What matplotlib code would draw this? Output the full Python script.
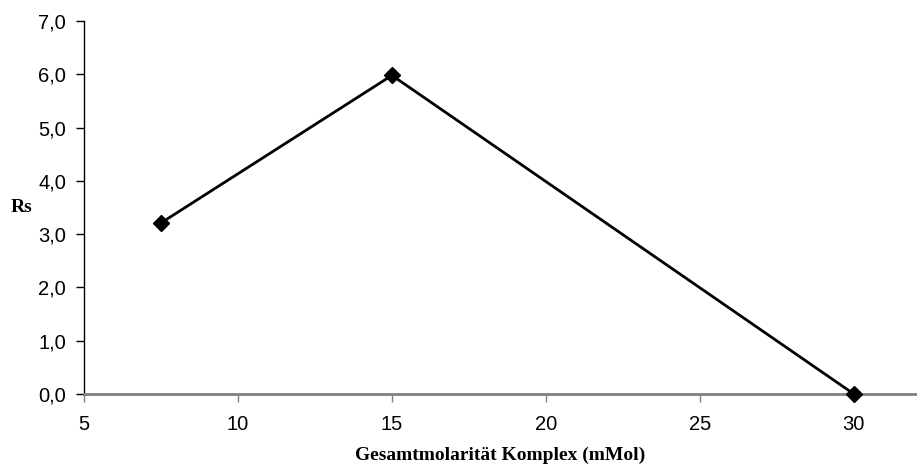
import matplotlib
matplotlib.use("Agg")
import matplotlib.pyplot as plt
from matplotlib.ticker import FuncFormatter

# Total molarity of the complex (mMol) and resolution Rs
molarity = [7.5, 15, 30]
rs_values = [3.21, 5.98, 0.0]
x_ticks = [5, 10, 15, 20, 25, 30]
y_ticks = [0, 1, 2, 3, 4, 5, 6, 7]

fig = plt.figure(figsize=(9.17, 4.70), dpi=100)
ax = fig.add_axes([84 / 917, 76 / 470, (917 - 84) / 917, (394 - 21) / 470])

ax.plot(molarity, rs_values, color="black", linewidth=2,
        marker="D", markersize=8, markerfacecolor="black",
        markeredgecolor="black", clip_on=False, zorder=3)

ax.set_xlim(5, 32.05)
ax.set_ylim(0, 7)
ax.set_xticks(x_ticks)
ax.set_yticks(y_ticks)
ax.yaxis.set_major_formatter(FuncFormatter(lambda v, p: f"{v:.1f}".replace(".", ",")))

for lab in ax.get_xticklabels() + ax.get_yticklabels():
    lab.set_fontfamily("Liberation Sans")
    lab.set_fontsize(14.5)

for side in ("top", "right"):
    ax.spines[side].set_visible(False)
ax.spines["left"].set_color("black")
ax.spines["left"].set_linewidth(1)
ax.spines["bottom"].set_color("#808080")
ax.spines["bottom"].set_linewidth(2)

ax.tick_params(axis="y", direction="out", length=6, width=1, color="black", pad=7)
ax.tick_params(axis="x", direction="out", length=6, width=1, color="#808080", pad=9)

ax.set_xlabel("Gesamtmolarität Komplex (mMol)", fontfamily="Liberation Serif",
              fontweight="bold", fontsize=14, labelpad=9)
fig.text(22 / 917, 1 - 208 / 470, "Rs", fontfamily="Liberation Serif",
         fontweight="bold", fontsize=14, ha="center", va="center")

fig.savefig("out.png", dpi=100)
